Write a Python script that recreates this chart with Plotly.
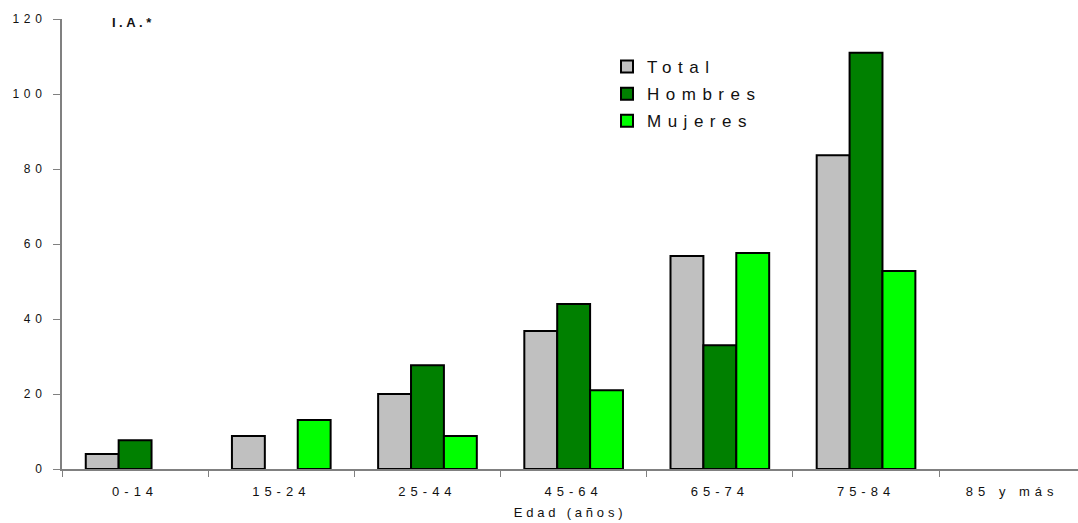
import plotly.graph_objects as go

# Age groups and incidence values (I.A.*) per sex
grupos = ["0-14", "15-24", "25-44", "45-64", "65-74", "75-84", "85 y más"]
total = [4.0, 8.8, 20.0, 36.8, 56.8, 83.7, None]
hombres = [7.7, None, 27.7, 44.0, 33.0, 111.0, None]
mujeres = [None, 13.1, 8.8, 21.0, 57.6, 52.8, None]
y_ticks = [0, 20, 40, 60, 80, 100, 120]


def spaced(s, px):
    """Wrap a label so its letters are drawn spread apart."""
    return f'<span style="letter-spacing:{px}px">{s}</span>'


FONT = "Liberation Sans, Arial, sans-serif"
INK = "#111111"
W, H = 1078, 523
L, R, T, B = 62, 0, 19, 54
cats = [spaced(g, 5) for g in grupos]

series = [
    ("Total", total, "#C0C0C0"),
    ("Hombres", hombres, "#008000"),
    ("Mujeres", mujeres, "#00FF00"),
]

fig = go.Figure()
for name, vals, color in series:
    fig.add_trace(go.Bar(
        x=cats, y=vals, name=spaced(name, 6.5), legendgroup=name,
        marker=dict(color=color, line=dict(color="#000000", width=2)),
    ))

fig.update_layout(
    width=W, height=H,
    margin=dict(l=L, r=R, t=T, b=B),
    paper_bgcolor="white", plot_bgcolor="white",
    barmode="group", bargap=0.325, bargroupgap=0,
    font=dict(family=FONT, color=INK),
    legend=dict(
        x=(607 - L) / (W - L - R), y=(H - B - 49) / (H - T - B),
        xanchor="left", yanchor="top",
        font=dict(size=17, family=FONT, color=INK),
        bgcolor="rgba(0,0,0,0)", tracegroupgap=2,
    ),
    annotations=[dict(
        text="<b>" + spaced("I.A.*", 3.5) + "</b>",
        x=(110 - L) / (W - L - R), y=(H - B - 23) / (H - T - B),
        xref="paper", yref="paper", showarrow=False,
        font=dict(size=13, family=FONT, color=INK),
        xanchor="left", yanchor="middle",
    )],
)

fig.update_xaxes(
    type="category", range=[-0.5, 6.45],
    tickson="boundaries", ticks="outside", ticklen=6, tickcolor="#808080",
    showline=True, linecolor="#808080", linewidth=2,
    showgrid=False, zeroline=False, ticklabelstandoff=9,
    tickfont=dict(size=13, family=FONT, color=INK),
    title=dict(text=spaced("Edad (años)", 3.8),
               font=dict(size=13, family=FONT, color=INK), standoff=10),
)
fig.update_yaxes(
    range=[0, 120], tickvals=y_ticks,
    ticktext=[spaced(str(v), 4.7) for v in y_ticks],
    ticks="outside", ticklen=7, tickcolor="#808080",
    showline=True, linecolor="#808080", linewidth=2,
    showgrid=False, zeroline=False, ticklabelstandoff=4,
    tickfont=dict(size=12, family=FONT, color=INK),
)

fig.write_html("out.html")
